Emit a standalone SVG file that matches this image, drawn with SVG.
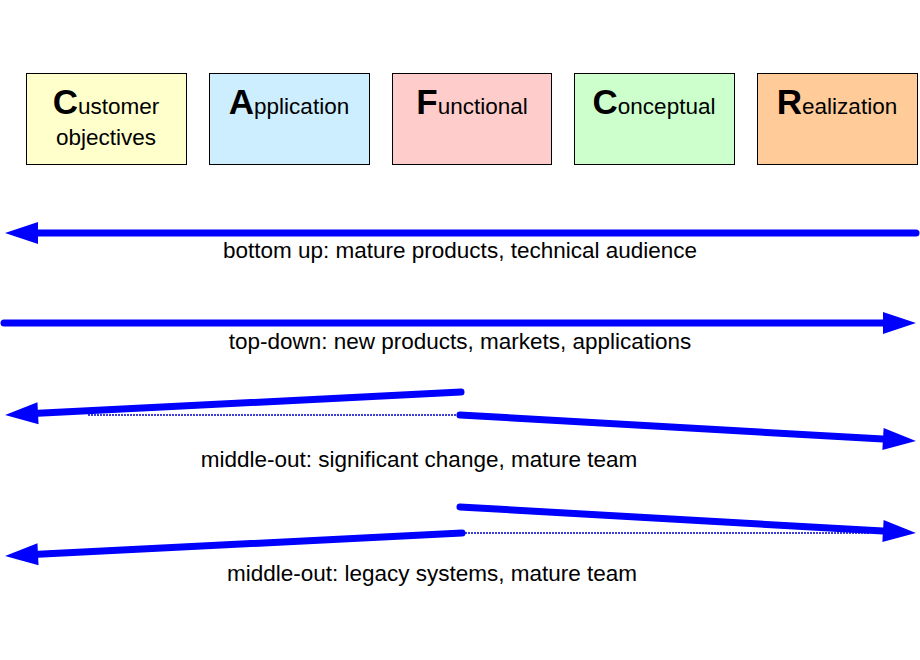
<svg xmlns="http://www.w3.org/2000/svg" width="920" height="660" viewBox="0 0 920 660">
<style>
.box{stroke:#000;stroke-width:1}
.t{font-family:"Liberation Sans",Arial,sans-serif;font-size:22.5px;fill:#000;text-anchor:middle}
.big{font-size:35px;font-weight:bold}
.lbl{font-family:"Liberation Sans",Arial,sans-serif;font-size:22.5px;fill:#000;text-anchor:middle}
.arr{stroke:#0000ff;stroke-width:7;fill:none;stroke-linecap:round}
.dot{stroke:#0000cc;stroke-width:1.3;stroke-dasharray:2,1;fill:none}
</style>
<defs>
<marker id="ah" markerUnits="userSpaceOnUse" markerWidth="34" markerHeight="24" refX="0" refY="11" orient="auto" overflow="visible">
<path d="M0,0 L33,11 L0,22 z" fill="#0000ff"/>
</marker>
</defs>
<rect width="920" height="660" fill="#fff"/>
<g id="customer"><rect class="box" x="26.5" y="73.5" width="160" height="91" fill="#ffffcc"/><text class="t" x="106" y="114"><tspan class="big">C</tspan>ustomer</text><text class="t" x="106" y="145">objectives</text></g>
<g id="application"><rect class="box" x="209.5" y="73.5" width="160" height="91" fill="#cceeff"/><text class="t" x="289" y="114"><tspan class="big">A</tspan>pplication</text></g>
<g id="functional"><rect class="box" x="392.5" y="73.5" width="159" height="91" fill="#ffcccc"/><text class="t" x="472" y="114"><tspan class="big">F</tspan>unctional</text></g>
<g id="conceptual"><rect class="box" x="574.5" y="73.5" width="160" height="91" fill="#ccffcc"/><text class="t" x="654" y="114"><tspan class="big">C</tspan>onceptual</text></g>
<g id="realization"><rect class="box" x="757.5" y="73.5" width="160" height="91" fill="#ffcc99"/><text class="t" x="837" y="114"><tspan class="big">R</tspan>ealization</text></g>
<g id="connectors">
<line class="arr" x1="916" y1="233" x2="38" y2="233" marker-end="url(#ah)"/>
<line class="arr" x1="4" y1="323" x2="883" y2="323" marker-end="url(#ah)"/>
<line class="dot" x1="88" y1="415" x2="458" y2="415"/>
<line class="arr" x1="461" y1="392" x2="38" y2="413.3" marker-end="url(#ah)"/>
<line class="arr" x1="460" y1="415" x2="883" y2="439.1" marker-end="url(#ah)"/>
<line class="dot" x1="462" y1="533" x2="870" y2="533"/>
<line class="arr" x1="460" y1="507" x2="883" y2="531.1" marker-end="url(#ah)"/>
<line class="arr" x1="462" y1="533" x2="38" y2="554.3" marker-end="url(#ah)"/>
</g>
<text class="lbl" x="460" y="258">bottom up: mature products, technical audience</text>
<text class="lbl" x="460" y="349">top-down: new products, markets, applications</text>
<text class="lbl" x="419" y="467">middle-out: significant change, mature team</text>
<text class="lbl" x="432" y="581">middle-out: legacy systems, mature team</text>
</svg>
